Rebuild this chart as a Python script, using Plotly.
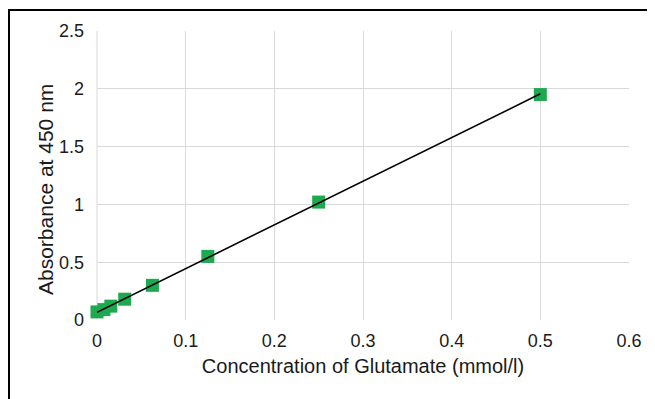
import plotly.graph_objects as go
import numpy as np

conc = [0, 0.0078, 0.0156, 0.03125, 0.0625, 0.125, 0.25, 0.5]
absorb = [0.07, 0.09, 0.12, 0.18, 0.30, 0.55, 1.02, 1.95]
x_ticks = [0, 0.1, 0.2, 0.3, 0.4, 0.5, 0.6]
y_ticks = [0, 0.5, 1, 1.5, 2, 2.5]

slope, intercept = np.polyfit(conc, absorb, 1)
fit_x = [min(conc), max(conc)]
fit_y = [slope * v + intercept for v in fit_x]

fig = go.Figure()
fig.add_trace(go.Scatter(x=conc, y=absorb, mode="markers", cliponaxis=False,
                         marker=dict(symbol="square", size=13, color="#1EA84F"),
                         showlegend=False))
fig.add_trace(go.Scatter(x=fit_x, y=fit_y, mode="lines", cliponaxis=False,
                         line=dict(color="black", width=1.6), showlegend=False))

L, T, PW, PH = 89, 23, 532, 289
fig.update_layout(
    width=655, height=399,
    margin=dict(l=L, r=655 - L - PW, t=T, b=399 - T - PH),
    paper_bgcolor="white", plot_bgcolor="white",
    font=dict(family="Liberation Sans, Arial, sans-serif", color="#1a1a1a", size=18),
    xaxis=dict(range=[0, 0.6], tickvals=x_ticks, ticktext=[str(t) for t in x_ticks],
               showgrid=True, gridcolor="#D9D9D9", gridwidth=1,
               showline=False, zeroline=False, ticks="", ticklabelstandoff=8,
               title=dict(text="Concentration of Glutamate (mmol/l)", font=dict(size=20), standoff=8)),
    yaxis=dict(range=[0, 2.5], tickvals=y_ticks, ticktext=[str(t) for t in y_ticks],
               showgrid=True, gridcolor="#D9D9D9", gridwidth=1,
               showline=False, zeroline=False, ticks="", ticklabelstandoff=12),
)
fig.add_annotation(text="Absorbance at 450 nm", textangle=-90, showarrow=False,
                   xref="paper", yref="paper", x=(45 - 8 - L) / PW, y=(320 - 190) / PH,
                   xanchor="center", yanchor="middle", font=dict(size=21))
fig.add_shape(type="line", xref="paper", yref="paper", x0=0, x1=0, y0=0, y1=1,
              line=dict(color="#D9D9D9", width=1), layer="below")
fig.add_shape(type="rect", xref="paper", yref="paper",
              x0=(1 - L) / PW, x1=1.2, y0=-0.5, y1=(T + PH - 2) / PH,
              line=dict(color="black", width=2), fillcolor="rgba(0,0,0,0)")
fig.write_html("out.html")
